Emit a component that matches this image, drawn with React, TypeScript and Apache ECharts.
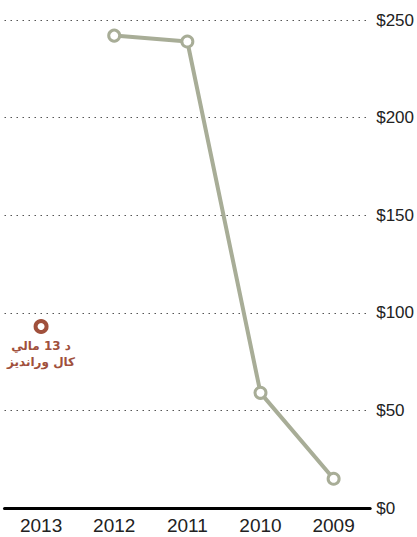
import React, { useEffect, useRef } from "react";
import * as echarts from "echarts";

const years = ["2013", "2012", "2011", "2010", "2009"];
const actualValues = [null, 242, 239, 59, 15];
const proposalValues = [93, null, null, null, null];
const proposalLabel = "د 13 مالي\nكال ورانديز";
const yTicks = { min: 0, max: 250, interval: 50 };

export default function App() {
  const ref = useRef<HTMLDivElement>(null);
  useEffect(() => {
    if (!ref.current) return;
    const chart = echarts.init(ref.current, null, { renderer: "svg" });
    chart.setOption({
      animation: false,
      grid: { left: 4.5, right: 46.5, top: 20, bottom: 29, containLabel: false },
      xAxis: {
        type: "category",
        data: years,
        boundaryGap: true,
        axisLine: { show: true, lineStyle: { color: "#000", width: 3 } },
        axisTick: { show: false },
        axisLabel: {
          color: "#222",
          fontFamily: "Liberation Sans",
          fontSize: 19,
          margin: 8,
        },
      },
      yAxis: {
        type: "value",
        position: "right",
        min: yTicks.min,
        max: yTicks.max,
        interval: yTicks.interval,
        axisLine: { show: false },
        axisTick: { show: false },
        axisLabel: {
          color: "#222",
          fontFamily: "Liberation Sans",
          fontSize: 17,
          margin: 6,
          formatter: (v: number) => "$" + v,
        },
        splitLine: {
          show: true,
          lineStyle: { color: "#555", width: 1.2, type: [1.5, 4.5] },
        },
      },
      series: [
        {
          type: "line",
          data: actualValues,
          connectNulls: false,
          symbol: "circle",
          symbolSize: 11,
          showSymbol: true,
          lineStyle: { color: "#a8ad97", width: 4 },
          itemStyle: { color: "#fff", borderColor: "#a8ad97", borderWidth: 3 },
          z: 3,
        },
        {
          type: "line",
          data: proposalValues,
          symbol: "circle",
          symbolSize: 11,
          showSymbol: true,
          lineStyle: { width: 0 },
          itemStyle: { color: "#fff", borderColor: "#a0503c", borderWidth: 4 },
          label: {
            show: true,
            position: "bottom",
            distance: 4,
            formatter: () => proposalLabel,
            color: "#a0503c",
            fontFamily: "DejaVu Sans",
            fontWeight: "bold",
            fontSize: 12,
            lineHeight: 16,
            align: "center",
          },
          z: 4,
        },
      ],
    });
    return () => chart.dispose();
  }, []);
  return (
    <div
      ref={ref}
      style={{ position: "fixed", left: 0, top: 0, width: 417, height: 537, background: "#fff" }}
    />
  );
}
